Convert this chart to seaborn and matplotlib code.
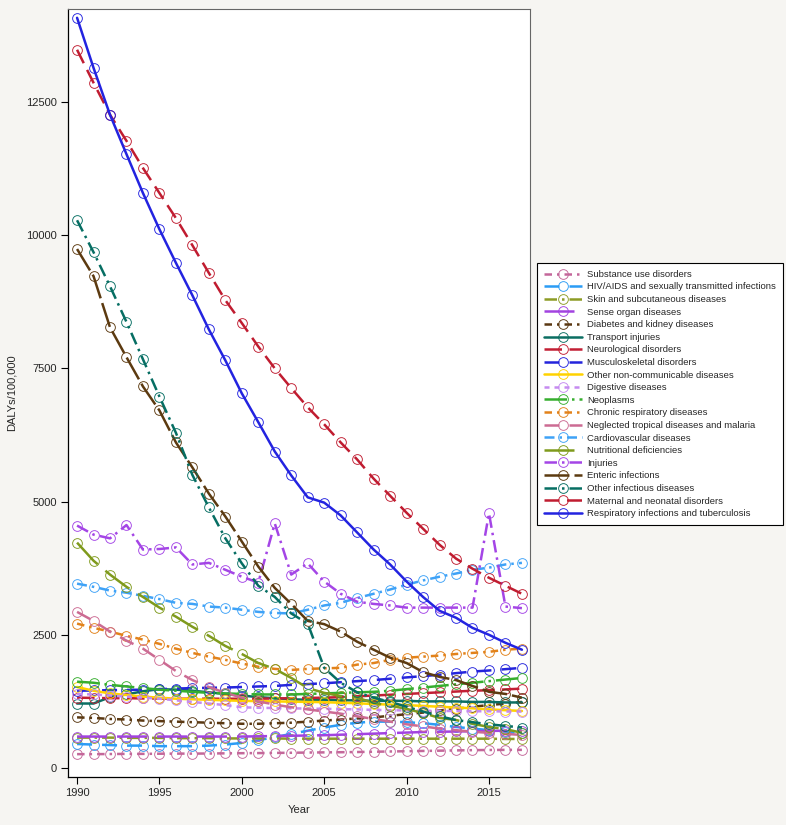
import matplotlib
matplotlib.use("Agg")
import matplotlib.pyplot as plt
import seaborn as sns
import pandas as pd

years = list(range(1990, 2018))

substance = [260, 260, 262, 265, 265, 268, 270, 270, 272, 275, 278, 280, 283, 286, 290, 293, 296, 300, 305, 310, 315, 320, 325, 330, 335, 338, 340, 340]
hiv = [450, 440, 430, 420, 420, 410, 410, 410, 420, 440, 470, 520, 580, 640, 700, 760, 810, 850, 870, 870, 860, 840, 810, 770, 740, 710, 680, 650]
skin = [570, 570, 570, 565, 565, 565, 560, 560, 560, 555, 555, 555, 555, 550, 550, 550, 550, 550, 550, 550, 550, 550, 550, 550, 550, 550, 545, 545]
sense = [590, 590, 590, 590, 590, 590, 590, 590, 590, 590, 590, 595, 600, 605, 610, 615, 625, 635, 645, 655, 665, 675, 680, 685, 690, 695, 700, 700]
diabetes = [950, 940, 920, 910, 890, 880, 870, 860, 850, 840, 830, 830, 840, 850, 870, 890, 910, 930, 950, 980, 1010, 1040, 1080, 1110, 1150, 1180, 1210, 1240]
transport = [1210, 1210, 1330, 1380, 1440, 1480, 1470, 1450, 1420, 1390, 1360, 1330, 1310, 1290, 1280, 1280, 1270, 1270, 1260, 1260, 1260, 1250, 1250, 1250, 1240, 1240, 1230, 1230]
neuro = [1320, 1315, 1310, 1310, 1305, 1305, 1300, 1300, 1300, 1300, 1300, 1300, 1305, 1310, 1315, 1320, 1330, 1345, 1360, 1375, 1390, 1405, 1420, 1435, 1450, 1460, 1475, 1490]
musculo = [1450, 1455, 1460, 1465, 1470, 1480, 1490, 1500, 1505, 1510, 1520, 1530, 1540, 1560, 1575, 1590, 1610, 1630, 1650, 1675, 1700, 1725, 1750, 1780, 1810, 1830, 1855, 1880]
other_ncd = [1520, 1450, 1400, 1370, 1340, 1320, 1300, 1290, 1280, 1270, 1260, 1255, 1250, 1245, 1240, 1235, 1225, 1215, 1200, 1190, 1180, 1165, 1150, 1135, 1120, 1100, 1085, 1070]
digestive = [1390, 1380, 1360, 1340, 1320, 1300, 1270, 1240, 1210, 1180, 1140, 1130, 1125, 1120, 1115, 1110, 1105, 1100, 1090, 1085, 1080, 1075, 1070, 1070, 1065, 1065, 1060, 1060]
neoplasms = [1620, 1600, 1560, 1530, 1500, 1470, 1450, 1430, 1410, 1400, 1390, 1380, 1380, 1380, 1390, 1400, 1410, 1420, 1430, 1450, 1480, 1510, 1540, 1570, 1600, 1630, 1660, 1690]
chronic_resp = [2710, 2630, 2560, 2480, 2410, 2330, 2240, 2160, 2090, 2030, 1960, 1900, 1860, 1840, 1860, 1870, 1880, 1940, 1970, 2030, 2070, 2090, 2110, 2140, 2160, 2180, 2220, 2240]
ntd = [2930, 2760, 2560, 2390, 2240, 2030, 1820, 1650, 1520, 1410, 1320, 1250, 1190, 1140, 1100, 1060, 1020, 970, 920, 870, 820, 780, 740, 710, 680, 660, 640, 620]
cvd = [3460, 3400, 3330, 3290, 3230, 3170, 3100, 3080, 3030, 3010, 2970, 2930, 2910, 2900, 2970, 3050, 3100, 3190, 3270, 3350, 3440, 3520, 3590, 3650, 3720, 3760, 3820, 3850]
nutritional = [4230, 3890, 3630, 3400, 3210, 3010, 2840, 2650, 2480, 2290, 2140, 1970, 1860, 1690, 1500, 1410, 1350, 1320, 1220, 1170, 1110, 1030, 940, 900, 830, 770, 730, 660]
injuries = [4550, 4380, 4310, 4560, 4100, 4110, 4140, 3820, 3850, 3720, 3590, 3480, 4590, 3630, 3840, 3500, 3270, 3120, 3080, 3050, 3010, 3010, 3010, 3010, 3010, 4780, 3030, 3000]
enteric = [9740, 9230, 8270, 7710, 7160, 6710, 6110, 5640, 5150, 4720, 4250, 3780, 3380, 3080, 2760, 2700, 2560, 2370, 2220, 2070, 1970, 1800, 1710, 1650, 1540, 1430, 1390, 1320]
other_inf = [10280, 9680, 9040, 8370, 7670, 6970, 6290, 5500, 4890, 4310, 3840, 3420, 3210, 2900, 2710, 1880, 1600, 1420, 1320, 1240, 1150, 1060, 970, 900, 860, 820, 790, 760]
maternal = [13480, 12860, 12260, 11770, 11260, 10790, 10320, 9810, 9290, 8780, 8350, 7910, 7500, 7130, 6770, 6450, 6110, 5790, 5430, 5110, 4790, 4490, 4190, 3930, 3740, 3570, 3420, 3270]
resp = [14080, 13140, 12260, 11520, 10790, 10110, 9480, 8870, 8230, 7650, 7030, 6490, 5940, 5490, 5080, 4980, 4740, 4420, 4100, 3820, 3500, 3210, 2950, 2820, 2630, 2500, 2350, 2220]

causes = [
    "Substance use disorders",
    "HIV/AIDS and sexually transmitted infections",
    "Skin and subcutaneous diseases",
    "Sense organ diseases",
    "Diabetes and kidney diseases",
    "Transport injuries",
    "Neurological disorders",
    "Musculoskeletal disorders",
    "Other non-communicable diseases",
    "Digestive diseases",
    "Neoplasms",
    "Chronic respiratory diseases",
    "Neglected tropical diseases and malaria",
    "Cardiovascular diseases",
    "Nutritional deficiencies",
    "Injuries",
    "Enteric infections",
    "Other infectious diseases",
    "Maternal and neonatal disorders",
    "Respiratory infections and tuberculosis",
]
values = [substance, hiv, skin, sense, diabetes, transport, neuro, musculo,
          other_ncd, digestive, neoplasms, chronic_resp, ntd, cvd, nutritional,
          injuries, enteric, other_inf, maternal, resp]

colors = ["#c4679a", "#2b9cf5", "#8d9c25", "#a243e0", "#5a3812", "#0b6e62",
          "#c21f34", "#2424dc", "#ffd200", "#c58af0", "#36ae2e", "#e2821a",
          "#cc6b93", "#3ea2f7", "#7f9a1c", "#a445e6", "#5c3a10", "#066e63",
          "#c01c30", "#2323e0"]
styles = [(0, (3, 2, 1, 2)), (0, (6, 4)), (0, (5, 2, 1, 2)), (0, (12, 4)),
          (0, (3, 2, 1, 2)), "-", (0, (7, 3)), (0, (6, 4)), "-", (0, (2, 2)),
          (0, (9, 2, 1, 2)), (0, (3, 2, 1, 2)), (0, (6, 4)), (0, (4, 2, 1, 2)),
          (0, (12, 4)), (0, (5, 2, 1, 2)), (0, (10, 2)), (0, (5, 2, 1, 2)),
          (0, (6, 3)), "-"]

rows = []
for c, v in zip(causes, values):
    for y, d in zip(years, v):
        rows.append({"Year": y, "DALYs": d, "Cause": c})
df = pd.DataFrame(rows)

sns.set_theme(style="white")
plt.rcParams["font.family"] = ["Liberation Sans", "DejaVu Sans"]

fig = plt.figure(figsize=(7.86, 8.25), dpi=100)
fig.patch.set_facecolor("#f6f5f2")
ax = fig.add_axes([68 / 786, 1 - 777 / 825, (530 - 68) / 786, (777 - 9) / 825])
ax.set_facecolor("white")

for c, col, ls in zip(causes, colors, styles):
    sub = df[df["Cause"] == c]
    sns.lineplot(data=sub, x="Year", y="DALYs", ax=ax, color=col, linestyle=ls,
                 linewidth=1.8, marker="o", markersize=7,
                 markerfacecolor="none", markeredgecolor=col,
                 markeredgewidth=0.65, label=c, legend=False)

ax.set_xlim(1989.45, 2017.49)
ax.set_ylim(-169, 14245)
ax.set_xticks([1990, 1995, 2000, 2005, 2010, 2015])
ax.set_yticks([0, 2500, 5000, 7500, 10000, 12500])
ax.tick_params(axis="both", direction="out", length=5, width=0.8,
               labelsize=8, color="black", bottom=True, left=True, pad=3)
ax.set_xlabel("Year", fontsize=8, labelpad=5)
ax.set_ylabel("DALYs/100,000", fontsize=8, labelpad=7)
for s in ["left", "bottom"]:
    ax.spines[s].set_color("black")
    ax.spines[s].set_linewidth(0.9)
for s in ["top", "right"]:
    ax.spines[s].set_color("#666666")
    ax.spines[s].set_linewidth(0.8)

handles, labels = ax.get_legend_handles_labels()
leg = fig.legend(handles, labels, loc="center left",
                 bbox_to_anchor=(537 / 786, 1 - 394 / 825),
                 bbox_transform=fig.transFigure, fontsize=6.8,
                 frameon=True, fancybox=False, edgecolor="black",
                 framealpha=1, handlelength=4.0, labelspacing=0.38,
                 borderpad=0.75, handletextpad=0.55, borderaxespad=0)
leg.get_frame().set_linewidth(0.8)

fig.savefig("out.png", dpi=100, facecolor=fig.get_facecolor())
